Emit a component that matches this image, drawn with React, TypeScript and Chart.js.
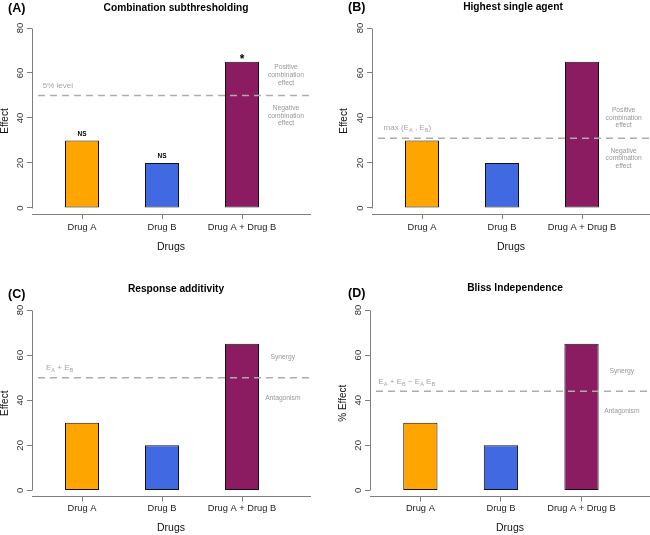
import React, { useEffect, useRef } from "react";
import { Chart, registerables } from "chart.js";
Chart.register(...registerables);

// ---------- data ----------
const categories = ["Drug A", "Drug B", "Drug A + Drug B"];
const effects = [30, 20, 65];
const barColors = ["#FFA500", "#4169E1", "#8B1C62"];
const yTicks = [0, 20, 40, 60, 80];
const panelLetters = ["(A)", "(B)", "(C)", "(D)"];
const panelTitles = [
  "Combination subthresholding",
  "Highest single agent",
  "Response additivity",
  "Bliss Independence",
];
const yTitles = ["Effect", "Effect", "Effect", "% Effect"];
const xTitle = "Drugs";
const thresholds = [50, 31, 50, 44];
type Seg = [string, boolean];
const thresholdLabels: Seg[][] = [
  [["5% level", false]],
  [["max (E", false], ["A", true], [" , E", false], ["B", true], [")", false]],
  [["E", false], ["A", true], [" + E", false], ["B", true]],
  [["E", false], ["A", true], [" + E", false], ["B", true], [" \u2212 E", false], ["A", true], [" E", false], ["B", true]],
];
const thresholdLabelX = [0.51, 0.52, 0.55, 0.48];
const thresholdLabelY = [54.2, 35.6, 54.2, 48];
const upperNotes = [
  ["Positive", "combination", "effect"],
  ["Positive", "combination", "effect"],
  ["Synergy"],
  ["Synergy"],
];
const lowerNotes = [
  ["Negative", "combination", "effect"],
  ["Negative", "combination", "effect"],
  ["Antagonism"],
  ["Antagonism"],
];
const noteX = [3.55, 3.52, 3.51, 3.5];
const upperNoteY = [59, 40, 59, 53];
const lowerNoteY = [41, 22, 41, 35];
const sigMarks = [["NS", "NS", "*"], ["", "", ""], ["", "", ""], ["", "", ""]];

// ---------- style / layout ----------
const FONT = "'Liberation Sans', Arial, Helvetica, sans-serif";
const AXIS = "#7f7f7f";
const GRAYTXT = "#a6a6a6";
const X_MIN = 0.375;
const X_MAX = 3.85;
const Y_MIN = -2.67;
const Y_MAX = 80;

const panels = [
  { left: 0, top: 0, w: 325, h: 267, padL: 32, padR: 15, padT: 28, xH: 53, xPad: 3, xTitlePad: 14.5, yTitlePad: 0.5, letter: [8, 9], title: [176, 8] },
  { left: 325, top: 0, w: 325, h: 267, padL: 47, padR: 0, padT: 28, xH: 53, xPad: 3, xTitlePad: 14.5, yTitlePad: 14, letter: [23, 8], title: [188, 7] },
  { left: 0, top: 267, w: 325, h: 268, padL: 32, padR: 15, padT: 43, xH: 38.5, xPad: 1.5, xTitlePad: 1.5, yTitlePad: 0.5, letter: [8, 28], title: [176, 22] },
  { left: 325, top: 267, w: 325, h: 268, padL: 45, padR: 0, padT: 43, xH: 38.5, xPad: 1.5, xTitlePad: 1.5, yTitlePad: 13, letter: [23, 27], title: [190, 21] },
];

function drawSegs(ctx: CanvasRenderingContext2D, segs: Seg[], x: number, y: number, size: number, color: string) {
  let cx = x;
  ctx.fillStyle = color;
  ctx.textAlign = "left";
  ctx.textBaseline = "middle";
  for (const [t, sub] of segs) {
    const s = sub ? size * 0.7 : size;
    ctx.font = `${s}px ${FONT}`;
    ctx.fillText(t, cx, sub ? y + size * 0.28 : y);
    cx += ctx.measureText(t).width;
  }
}

function makeDecor(i: number) {
  const p = panels[i];
  return {
    id: "decor" + i,
    afterDatasetsDraw(chart: any) {
      const { ctx, chartArea, scales } = chart;
      const x = scales.x;
      const y = scales.y;
      ctx.save();
      // y axis line (0..80 only, R style)
      const ax = Math.round(chartArea.left) + 0.5;
      ctx.strokeStyle = AXIS;
      ctx.lineWidth = 1;
      ctx.beginPath();
      ctx.moveTo(ax, Math.round(y.getPixelForValue(yTicks[0])) + 0.5);
      ctx.lineTo(ax, Math.round(y.getPixelForValue(yTicks[yTicks.length - 1])) + 0.5);
      ctx.stroke();

      // dashed threshold
      const ty = y.getPixelForValue(thresholds[i]);
      ctx.strokeStyle = "#acacac";
      ctx.lineWidth = 1.4;
      ctx.setLineDash([7, 5]);
      ctx.beginPath();
      ctx.moveTo(chartArea.left + 6, ty);
      ctx.lineTo(chartArea.right, ty);
      ctx.stroke();
      ctx.setLineDash([]);

      // threshold label
      drawSegs(ctx, thresholdLabels[i], x.getPixelForValue(thresholdLabelX[i]), y.getPixelForValue(thresholdLabelY[i]), 8, GRAYTXT);

      // notes
      ctx.font = `6.7px ${FONT}`;
      ctx.fillStyle = "#979797";
      ctx.textAlign = "center";
      ctx.textBaseline = "middle";
      const nx = x.getPixelForValue(noteX[i]);
      const drawNote = (lines: string[], val: number) => {
        const cy = y.getPixelForValue(val);
        const lh = 7.6;
        lines.forEach((ln, k) => {
          ctx.fillText(ln, nx, cy + (k - (lines.length - 1) / 2) * lh);
        });
      };
      drawNote(upperNotes[i], upperNoteY[i]);
      drawNote(lowerNotes[i], lowerNoteY[i]);

      // significance marks
      sigMarks[i].forEach((m, k) => {
        if (!m) return;
        const px = x.getPixelForValue(k + 1);
        const isStar = m === "*";
        ctx.font = isStar ? `bold 12px ${FONT}` : `bold 6.5px ${FONT}`;
        ctx.fillStyle = "#000";
        ctx.textAlign = "center";
        ctx.textBaseline = "middle";
        ctx.fillText(m, px, y.getPixelForValue(effects[k] + (isStar ? 2.3 : 2.9)) + (isStar ? 3 : 0));
      });

      // panel letter and title
      ctx.fillStyle = "#000";
      ctx.textBaseline = "middle";
      ctx.textAlign = "left";
      ctx.font = `bold 12.5px ${FONT}`;
      ctx.fillText(panelLetters[i], p.letter[0], p.letter[1]);
      ctx.textAlign = "center";
      ctx.font = `bold 10.2px ${FONT}`;
      ctx.fillText(panelTitles[i], p.title[0], p.title[1]);
      ctx.restore();
    },
  };
}

function Panel({ i }: { i: number }) {
  const ref = useRef<HTMLCanvasElement | null>(null);
  const p = panels[i];
  useEffect(() => {
    if (!ref.current) return;
    const chart = new Chart(ref.current, {
      type: "bar",
      data: {
        datasets: [
          {
            data: effects.map((v, k) => ({ x: k + 1, y: v })) as any,
            backgroundColor: barColors,
            borderColor: "#111111",
            borderWidth: 1,
            borderSkipped: false,
            barPercentage: 0.425,
            categoryPercentage: 1,
          },
        ],
      },
      options: {
        responsive: false,
        animation: false,
        events: [],
        layout: { padding: { left: 0, right: p.padR, top: p.padT, bottom: 0 } },
        plugins: { legend: { display: false }, tooltip: { enabled: false }, title: { display: false } },
        scales: {
          x: {
            type: "linear",
            offset: false,
            min: X_MIN,
            max: X_MAX,
            afterBuildTicks: (s: any) => {
              s.ticks = categories.map((_, k) => ({ value: k + 1 }));
            },
            afterFit: (s: any) => {
              s.height = p.xH;
            },
            ticks: {
              callback: (_v: any, idx: number) => categories[idx],
              autoSkip: false,
              maxRotation: 0,
              minRotation: 0,
              padding: p.xPad,
              color: "#222",
              font: { family: FONT, size: 9.3 },
            },
            grid: { offset: false, drawOnChartArea: false, drawTicks: true, tickLength: 5, color: AXIS, tickColor: AXIS },
            border: { display: true, color: AXIS, width: 1 },
            title: {
              display: true,
              text: xTitle,
              color: "#111",
              font: { family: FONT, size: 10.5, lineHeight: 1 },
              padding: { top: 0, bottom: p.xTitlePad },
            },
          },
          y: {
            type: "linear",
            min: Y_MIN,
            max: Y_MAX,
            afterBuildTicks: (s: any) => {
              s.ticks = yTicks.map((v) => ({ value: v }));
            },
            afterFit: (s: any) => {
              s.width = p.padL;
            },
            ticks: {
              minRotation: 90,
              maxRotation: 90,
              crossAlign: "center",
              padding: 1.5,
              color: "#333",
              font: { family: FONT, size: 9.5 },
            },
            grid: { drawOnChartArea: false, drawTicks: true, tickLength: 5, color: AXIS, tickColor: AXIS },
            border: { display: false },
            title: {
              display: true,
              text: yTitles[i],
              color: "#111",
              font: { family: FONT, size: 10, lineHeight: 1 },
              padding: { top: p.yTitlePad, bottom: 0 },
            },
          },
        },
      } as any,
      plugins: [makeDecor(i)],
    });
    return () => chart.destroy();
  }, [i]);
  return (
    <canvas
      ref={ref}
      width={p.w}
      height={p.h}
      style={{ position: "absolute", left: p.left, top: p.top, width: p.w, height: p.h, display: "block" }}
    />
  );
}

export default function App() {
  return (
    <div style={{ position: "absolute", left: 0, top: 0, width: 650, height: 535, background: "#fff", overflow: "hidden" }}>
      {panels.map((_, i) => (
        <Panel key={i} i={i} />
      ))}
    </div>
  );
}
